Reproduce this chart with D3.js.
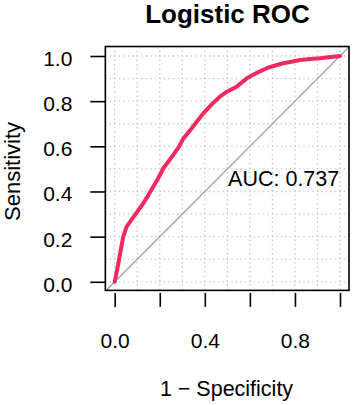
<!DOCTYPE html>
<html><head><meta charset="utf-8">
<script src="https://cdn.jsdelivr.net/npm/d3@7"></script>
<style>body{margin:0;background:#fff}svg{display:block}text{font-family:"Liberation Sans",Arial,sans-serif;fill:#000}</style>
</head><body>
<script>
const title = "Logistic ROC";
const xLabel = "1 \u2212 Specificity";
const yLabel = "Sensitivity";
const aucLabel = "AUC: 0.737";
const fpr = [0, 0.008, 0.016, 0.027, 0.038, 0.053, 0.075, 0.10, 0.127, 0.15, 0.171, 0.195, 0.216, 0.24, 0.26, 0.285, 0.305, 0.342, 0.393, 0.43, 0.467, 0.50, 0.541, 0.586, 0.63, 0.675, 0.72, 0.748, 0.79, 0.822, 0.87, 0.911, 0.95, 1.0];
const tpr = [0, 0.04, 0.08, 0.141, 0.2, 0.244, 0.275, 0.31, 0.348, 0.385, 0.421, 0.462, 0.503, 0.535, 0.562, 0.598, 0.635, 0.68, 0.746, 0.785, 0.82, 0.843, 0.864, 0.901, 0.925, 0.946, 0.96, 0.968, 0.976, 0.982, 0.987, 0.99, 0.994, 1.0];
const xTicks = [0, 0.2, 0.4, 0.6, 0.8, 1.0];
const xTickLabels = ["0.0", "", "0.4", "", "0.8", ""];
const yTicks = [0, 0.2, 0.4, 0.6, 0.8, 1.0];
const yTickLabels = ["0.0", "0.2", "0.4", "0.6", "0.8", "1.0"];
const gridVals = [0, 0.1, 0.2, 0.3, 0.4, 0.5, 0.6, 0.7, 0.8, 0.9, 1.0];

const W = 353, H = 405;
const svg = d3.select("body").append("svg").attr("width", W).attr("height", H);
const x = d3.scaleLinear().domain([0, 1]).range([114.7, 340]);
const y = d3.scaleLinear().domain([0, 1]).range([281.8, 56]);
const x0 = x(-0.0415), x1 = x(1.04), y0 = y(-0.038), y1 = y(1.042);

// grid
const g = svg.append("g");
gridVals.forEach(v => {
  g.append("line").attr("x1", x0).attr("x2", x1).attr("y1", y(v)).attr("y2", y(v))
    .attr("stroke", "#c8c8c8").attr("stroke-width", 1.3).attr("stroke-dasharray", "1.3,3.2");
  g.append("line").attr("y1", y0).attr("y2", y1).attr("x1", x(v)).attr("x2", x(v))
    .attr("stroke", "#c8c8c8").attr("stroke-width", 1.3).attr("stroke-dasharray", "1.3,3.2");
});

// clip
svg.append("clipPath").attr("id", "clip").append("rect")
  .attr("x", x0).attr("y", y1).attr("width", x1 - x0).attr("height", y0 - y1);

// diagonal
svg.append("line").attr("clip-path", "url(#clip)")
  .attr("x1", x(-0.05)).attr("y1", y(-0.05)).attr("x2", x(1.05)).attr("y2", y(1.05))
  .attr("stroke", "#a6a6a6").attr("stroke-width", 1.4);

// ROC curve
const pts = fpr.map((f, i) => [f, tpr[i]]);
svg.append("path").datum(pts)
  .attr("d", d3.line().x(d => x(d[0])).y(d => y(d[1])))
  .attr("fill", "none").attr("stroke", "#ee2a5e").attr("stroke-width", 4)
  .attr("stroke-linejoin", "round").attr("stroke-linecap", "round");

// box
svg.append("rect").attr("x", x0).attr("y", y1).attr("width", x1 - x0).attr("height", y0 - y1)
  .attr("fill", "none").attr("stroke", "#000").attr("stroke-width", 1.6);

// y axis
const yAxis = d3.axisLeft(y).tickValues(yTicks).tickFormat((d, i) => yTickLabels[i]).tickSize(15).tickPadding(18);
const ya = svg.append("g").attr("transform", `translate(${x0},0)`).call(yAxis);
ya.select(".domain").remove();
ya.selectAll("line").attr("stroke", "#000").attr("stroke-width", 1.6);
ya.selectAll("text").style("font-size", "21px").attr("dy", "0.45em").attr("fill", "#000");

// x axis
const xAxis = d3.axisBottom(x).tickValues(xTicks).tickFormat((d, i) => xTickLabels[i]).tickSize(14).tickPadding(26);
const xa = svg.append("g").attr("transform", `translate(0,${y0 + 2.5})`).call(xAxis);
xa.select(".domain").remove();
xa.selectAll("line").attr("stroke", "#000").attr("stroke-width", 1.6);
xa.selectAll("text").style("font-size", "21px").attr("fill", "#000");

// AUC
svg.append("text").attr("x", x(0.75)).attr("y", y(0.46)).attr("dy", "0.36em")
  .attr("text-anchor", "middle").style("font-size", "21.5px").text(aucLabel);

// titles
svg.append("text").attr("x", 227.5).attr("y", 23).attr("text-anchor", "middle")
  .style("font-size", "26px").style("font-weight", "bold").text(title);
svg.append("text").attr("x", 226.5).attr("y", 395.5).attr("text-anchor", "middle")
  .style("font-size", "21.5px").text(xLabel);
svg.append("text").attr("transform", "translate(20,171.5) rotate(-90)").attr("text-anchor", "middle")
  .style("font-size", "22px").text(yLabel);
</script>
</body></html>
